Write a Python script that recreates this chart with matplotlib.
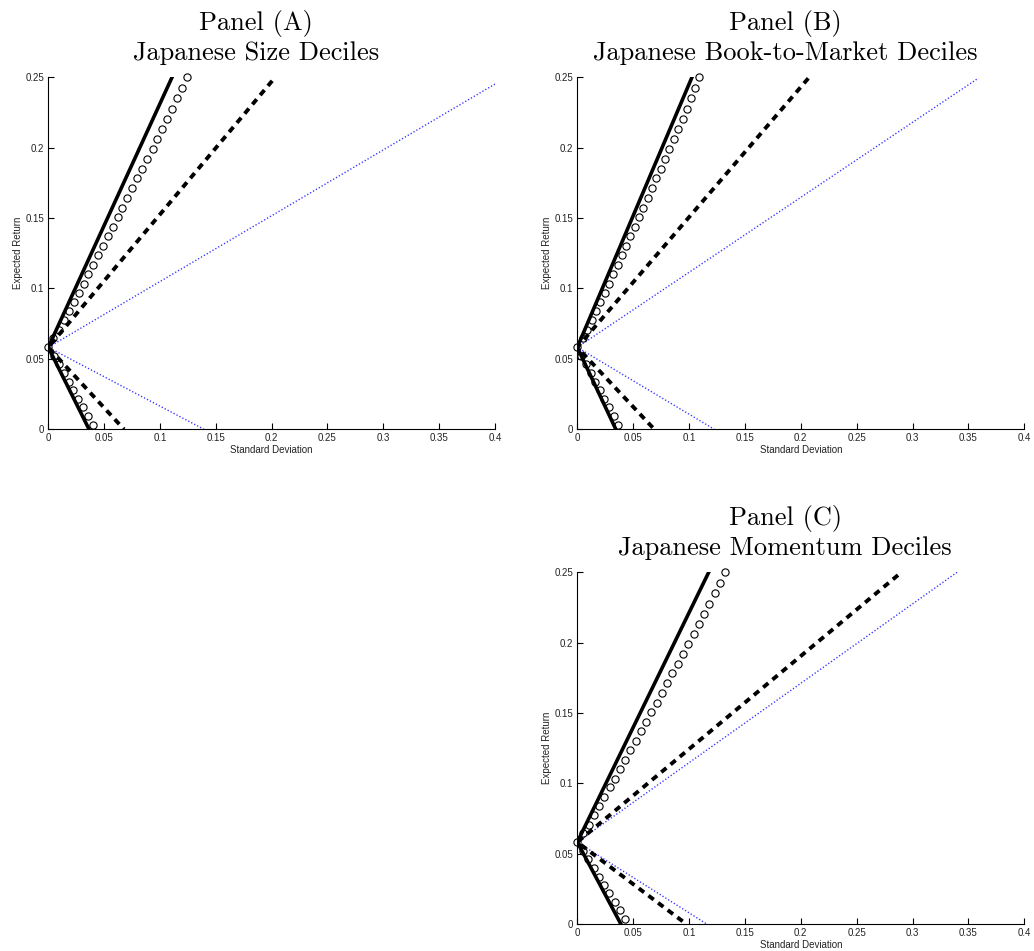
import matplotlib
matplotlib.use('Agg')
import matplotlib.pyplot as plt

plt.rcParams['font.family'] = ['Liberation Sans', 'DejaVu Sans']

# mean grid of the circle frontier (same for all panels)
circle_mu = [0.2500, 0.2424, 0.2351, 0.2277, 0.2204, 0.2133, 0.2062, 0.1991, 0.1920, 0.1851,
             0.1783, 0.1714, 0.1643, 0.1574, 0.1508, 0.1439, 0.1373, 0.1304, 0.1238, 0.1167,
             0.1101, 0.1034, 0.0971, 0.0903, 0.0837, 0.0773, 0.0707, 0.0646, 0.0582,
             0.0521, 0.0462, 0.0398, 0.0336, 0.0279, 0.0217, 0.0158, 0.0097, 0.0033]

circle_sd = {
    'A': [0.1239, 0.1200, 0.1155, 0.1110, 0.1066, 0.1021, 0.0976, 0.0935, 0.0887, 0.0842,
          0.0797, 0.0752, 0.0708, 0.0663, 0.0621, 0.0577, 0.0532, 0.0487, 0.0442, 0.0403,
          0.0358, 0.0317, 0.0272, 0.0227, 0.0183, 0.0138, 0.0093, 0.0045, 0.0,
          0.0050, 0.0094, 0.0139, 0.0182, 0.0225, 0.0270, 0.0314, 0.0356, 0.0397],
    'B': [0.1092, 0.1056, 0.1017, 0.0979, 0.0943, 0.0901, 0.0863, 0.0823, 0.0785, 0.0746,
          0.0707, 0.0668, 0.0630, 0.0590, 0.0552, 0.0513, 0.0474, 0.0436, 0.0397, 0.0361,
          0.0322, 0.0284, 0.0245, 0.0206, 0.0167, 0.0129, 0.0089, 0.0051, 0.0,
          0.0035, 0.0080, 0.0122, 0.0163, 0.0202, 0.0242, 0.0284, 0.0326, 0.0364],
    'C': [0.1324, 0.1277, 0.1230, 0.1181, 0.1134, 0.1086, 0.1042, 0.0993, 0.0946, 0.0898,
          0.0850, 0.0803, 0.0758, 0.0711, 0.0662, 0.0618, 0.0570, 0.0523, 0.0474, 0.0430,
          0.0382, 0.0335, 0.0290, 0.0242, 0.0197, 0.0149, 0.0105, 0.0054, 0.0,
          0.0050, 0.0098, 0.0147, 0.0194, 0.0239, 0.0286, 0.0335, 0.0382, 0.0427],
}

# straight frontiers: upper end, tangency vertex, lower end
solid_sd = {'A': [0.1108, 0.0, 0.0365], 'B': [0.1026, 0.0, 0.0345], 'C': [0.1176, 0.0, 0.0390]}
solid_mu = {'A': [0.25, 0.0582, 0.0], 'B': [0.25, 0.0582, 0.0], 'C': [0.25, 0.0582, 0.0]}
dash_sd = {'A': [0.2005, 0.0, 0.0678], 'B': [0.2067, 0.0, 0.0689], 'C': [0.2870, 0.0, 0.0975]}
dash_mu = {'A': [0.2475, 0.0582, 0.0], 'B': [0.2493, 0.0582, 0.0], 'C': [0.2480, 0.0582, 0.0]}
dot_sd = {'A': [0.4000, 0.0, 0.1394], 'B': [0.3574, 0.0, 0.1226], 'C': [0.3398, 0.0, 0.1158]}
dot_mu = {'A': [0.2452, 0.0582, 0.0], 'B': [0.2486, 0.0582, 0.0], 'C': [0.2500, 0.0582, 0.0]}

titles = {'A': 'Panel (A)\nJapanese Size Deciles',
          'B': 'Panel (B)\nJapanese Book-to-Market Deciles',
          'C': 'Panel (C)\nJapanese Momentum Deciles'}

xticks = [0, 0.05, 0.1, 0.15, 0.2, 0.25, 0.3, 0.35, 0.4]
xticklabels = ['0', '0.05', '0.1', '0.15', '0.2', '0.25', '0.3', '0.35', '0.4']
yticks = [0, 0.05, 0.1, 0.15, 0.2, 0.25]
yticklabels = ['0', '0.05', '0.1', '0.15', '0.2', '0.25']

positions = {'A': [0.0467, 0.5486, 0.4320, 0.3701],
             'B': [0.5583, 0.5486, 0.4323, 0.3701],
             'C': [0.5583, 0.0284, 0.4323, 0.3698]}

fig = plt.figure(figsize=(10.34, 9.51), dpi=100)

for key in ['A', 'B', 'C']:
    ax = fig.add_axes(positions[key])
    ax.plot(dot_sd[key], dot_mu[key], color='#3030ff', lw=1.0, linestyle=(0, (0.9, 1.5)))
    ax.plot(dash_sd[key], dash_mu[key], color='k', lw=2.8,
            linestyle=(0, (1.7, 1.4)), dash_capstyle='butt')
    ax.plot(solid_sd[key], solid_mu[key], color='k', lw=2.6, solid_joinstyle='miter')
    ax.plot(circle_sd[key], circle_mu, 'o', mfc='none', mec='k', ms=5.2, mew=0.8,
            clip_on=False)

    ax.set_xlim(0, 0.4)
    ax.set_ylim(0, 0.25)
    ax.set_xticks(xticks)
    ax.set_xticklabels(xticklabels)
    ax.set_yticks(yticks)
    ax.set_yticklabels(yticklabels)
    ax.tick_params(direction='in', length=4, width=0.8, labelsize=7, pad=3,
                   labelcolor='#222222')
    ax.spines['top'].set_visible(False)
    ax.spines['right'].set_visible(False)
    ax.set_xlabel('Standard Deviation', fontsize=7, labelpad=1, color='#222222')
    ax.set_ylabel('Expected Return', fontsize=7, labelpad=2, color='#222222')

    ax.text(0.465, 1.036, titles[key], transform=ax.transAxes, ha='center', va='bottom',
            fontsize=19, family='cmr10', linespacing=1.2)

fig.savefig('out.png', dpi=100)
